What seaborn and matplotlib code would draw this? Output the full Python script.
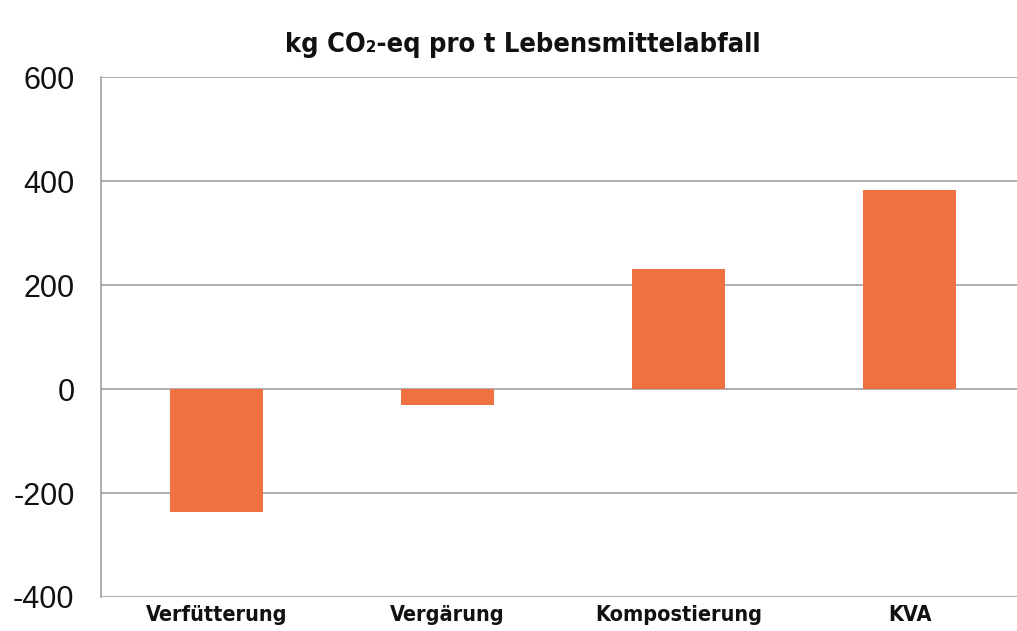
import matplotlib
matplotlib.use("Agg")
import matplotlib.pyplot as plt
import seaborn as sns

# data
categories = ["Verfütterung", "Vergärung", "Kompostierung", "KVA"]
values = [-237, -31, 230, 383]
yticks = [-400, -200, 0, 200, 400, 600]
title = "kg CO₂-eq pro t Lebensmittelabfall"

sns.set_theme(style="white")
plt.rcParams['font.family'] = ['Liberation Sans', 'DejaVu Sans']
narrow = ['DejaVu Sans']

fig = plt.figure(figsize=(10.17, 6.31), dpi=100)
ax = fig.add_axes([0.0993, 0.0539, 0.9086, 0.824])

sns.barplot(x=categories, y=values, color="#EF7142", saturation=1,
            width=0.4, linewidth=0, ax=ax, zorder=3)

ax.set_ylim(-400, 600)
ax.set_xlim(-0.5, 3.5)
ax.set_yticks(yticks)
ax.set_yticklabels([str(t) for t in yticks], fontsize=22, color="#111111")
ax.yaxis.grid(True, color="#a0a0a0", linewidth=1.2, zorder=0)
ax.set_axisbelow(True)
ax.tick_params(axis="y", length=0, pad=19)
ax.tick_params(axis="x", length=0, pad=6)
for lbl in ax.get_xticklabels():
    lbl.set_family(narrow)
    lbl.set_stretch("condensed")
    lbl.set_fontsize(15.5)
    lbl.set_fontweight("bold")
    lbl.set_color("#111111")
ax.set_xlabel("")
ax.set_ylabel("")
for s in ["top", "right", "bottom"]:
    ax.spines[s].set_visible(False)
ax.spines["left"].set_color("#a0a0a0")
ax.spines["left"].set_linewidth(1.2)

fig.text(0.514, 0.928, title, ha="center", va="center", fontsize=19.5,
         fontweight="bold", family=narrow, stretch="condensed", color="#111111")

fig.savefig("out.png", dpi=100)
